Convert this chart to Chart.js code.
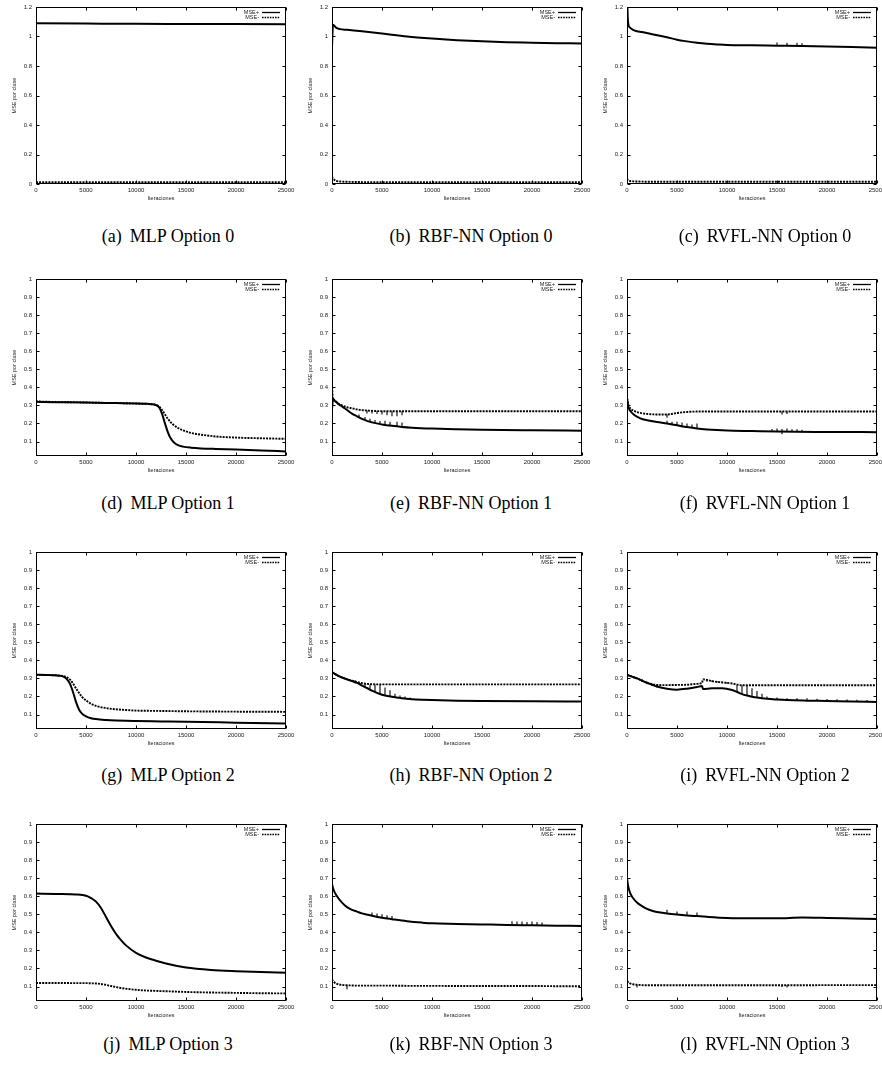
<!DOCTYPE html>
<html>
<head>
<meta charset="utf-8">
<script src="https://cdn.jsdelivr.net/npm/chart.js@4.4.1/dist/chart.umd.min.js"></script>
<style>
  html, body { margin: 0; padding: 0; background: #fff; }
  body { width: 882px; height: 1065px; overflow: hidden; position: relative; }
  canvas { position: absolute; }
  .cap {
    position: absolute; width: 300px; text-align: center; white-space: nowrap;
    font-family: "Liberation Serif", "Times New Roman", serif; font-size: 18px;
    line-height: 20px; color: #000;
  }
  .cap span { margin-right: 0.45em; }
</style>
</head>
<body>
<script>
(function () {
  'use strict';

  // --- Axes / labels ---
  var xTicks = [0, 5000, 10000, 15000, 20000, 25000];
  var yTicksRow0 = [0, 0.2, 0.4, 0.6, 0.8, 1, 1.2];
  var yTicksRest = [0.1, 0.2, 0.3, 0.4, 0.5, 0.6, 0.7, 0.8, 0.9, 1];
  var legendLabels = ['MSE+', 'MSE-'];
  var xTitle = 'Iteraciones';
  var yTitle = 'MSE por clase';
  var captionTags = ['(a)', '(b)', '(c)', '(d)', '(e)', '(f)', '(g)', '(h)', '(i)', '(j)', '(k)', '(l)'];
  var captionNames = ['MLP Option 0', 'RBF-NN Option 0', 'RVFL-NN Option 0',
                      'MLP Option 1', 'RBF-NN Option 1', 'RVFL-NN Option 1',
                      'MLP Option 2', 'RBF-NN Option 2', 'RVFL-NN Option 2',
                      'MLP Option 3', 'RBF-NN Option 3', 'RVFL-NN Option 3'];

  // --- (a) MLP Option 0 ---
  var aX = [0, 5000, 10000, 15000, 20000, 25000];
  var aPos = [1.09, 1.088, 1.086, 1.085, 1.084, 1.083];
  var aNeg = [0.012, 0.012, 0.012, 0.012, 0.012, 0.012];

  // --- (b) RBF-NN Option 0 ---
  var bX = [0, 100, 200, 400, 800, 1500, 3000, 5000, 7500, 10000, 12500, 15000, 17500, 20000, 22500, 25000];
  var bPos = [0.93, 1.08, 1.075, 1.06, 1.05, 1.045, 1.035, 1.02, 1.0, 0.986, 0.975, 0.967, 0.961, 0.958, 0.955, 0.952];
  var bNeg = [0.05, 0.035, 0.03, 0.022, 0.017, 0.015, 0.013, 0.012, 0.012, 0.012, 0.012, 0.012, 0.012, 0.012, 0.012, 0.012];

  // --- (c) RVFL-NN Option 0 ---
  var cX = [0, 100, 300, 600, 1000, 1500, 2500, 4000, 5000, 6000, 7000, 8000, 9000, 10000, 12500, 15000, 17500, 20000, 22500, 25000];
  var cPos = [1.3, 1.1, 1.06, 1.045, 1.035, 1.03, 1.015, 0.995, 0.978, 0.967, 0.958, 0.951, 0.946, 0.942, 0.94, 0.938, 0.936, 0.933, 0.929, 0.924];
  var cNeg = [0.035, 0.025, 0.02, 0.018, 0.017, 0.016, 0.015, 0.015, 0.015, 0.015, 0.015, 0.015, 0.015, 0.015, 0.015, 0.015, 0.015, 0.015, 0.015, 0.015];
  var cSpikeX = [15000, 16000, 17000, 17500];
  var cSpikeLo = [0.938, 0.937, 0.936, 0.936];
  var cSpikeHi = [0.96, 0.958, 0.958, 0.955];

  // --- (d) MLP Option 1 ---
  var dX = [0, 2000, 5000, 8000, 10000, 11000, 11500, 12000, 12300, 12600, 12900, 13200, 13500, 13800, 14200, 14700, 15500, 16500, 18000, 20000, 22500, 25000];
  var dPos = [0.32, 0.318, 0.316, 0.313, 0.311, 0.309, 0.307, 0.302, 0.29, 0.255, 0.2, 0.15, 0.115, 0.095, 0.08, 0.072, 0.066, 0.062, 0.059, 0.056, 0.051, 0.045];
  var dNeg = [0.322, 0.319, 0.316, 0.313, 0.311, 0.309, 0.307, 0.303, 0.295, 0.275, 0.25, 0.225, 0.205, 0.19, 0.175, 0.162, 0.148, 0.138, 0.128, 0.122, 0.118, 0.115];

  // --- (e) RBF-NN Option 1 ---
  var eX = [0, 100, 300, 600, 1000, 1500, 2000, 2500, 3000, 4000, 5000, 6000, 7000, 8000, 10000, 12500, 15000, 20000, 25000];
  var ePos = [0.28, 0.335, 0.325, 0.31, 0.295, 0.275, 0.255, 0.24, 0.226, 0.206, 0.195, 0.187, 0.181, 0.177, 0.172, 0.168, 0.165, 0.162, 0.16];
  var eNeg = [0.4, 0.335, 0.325, 0.31, 0.3, 0.29, 0.284, 0.278, 0.274, 0.27, 0.268, 0.268, 0.268, 0.268, 0.268, 0.268, 0.268, 0.268, 0.268];
  var eSpikeX = [2700, 3300, 3800, 4300, 4800, 5300, 5800, 6500, 7000, 3500, 4000, 4500, 5000, 5500, 6000, 6500, 7000];
  var eSpikeLo = [0.235, 0.222, 0.212, 0.204, 0.198, 0.193, 0.188, 0.184, 0.181, 0.255, 0.255, 0.252, 0.25, 0.245, 0.24, 0.24, 0.245];
  var eSpikeHi = [0.25, 0.236, 0.226, 0.22, 0.214, 0.215, 0.21, 0.21, 0.205, 0.272, 0.27, 0.268, 0.268, 0.268, 0.268, 0.268, 0.268];

  // --- (f) RVFL-NN Option 1 ---
  var fX = [0, 150, 400, 700, 1000, 1500, 2000, 3000, 4000, 5000, 6000, 7000, 8000, 10000, 12500, 15000, 20000, 25000];
  var fPos = [0.34, 0.29, 0.265, 0.248, 0.238, 0.225, 0.218, 0.208, 0.2, 0.19, 0.18, 0.172, 0.167, 0.161, 0.158, 0.155, 0.153, 0.152];
  var fNeg = [0.34, 0.3, 0.28, 0.27, 0.263, 0.257, 0.253, 0.25, 0.25, 0.258, 0.264, 0.266, 0.266, 0.266, 0.266, 0.266, 0.266, 0.266];
  var fSpikeX = [4000, 4500, 5000, 5500, 6000, 6500, 7000, 14500, 15000, 15500, 16000, 16500, 17000, 17500, 4000, 15500, 16000];
  var fSpikeLo = [0.2, 0.195, 0.19, 0.185, 0.18, 0.176, 0.172, 0.156, 0.155, 0.14, 0.155, 0.154, 0.154, 0.154, 0.232, 0.25, 0.252];
  var fSpikeHi = [0.215, 0.21, 0.21, 0.205, 0.2, 0.195, 0.2, 0.17, 0.172, 0.17, 0.172, 0.168, 0.168, 0.165, 0.25, 0.266, 0.266];

  // --- (g) MLP Option 2 ---
  var gX = [0, 1000, 2000, 2500, 2800, 3100, 3400, 3700, 4000, 4300, 4600, 5000, 5500, 6000, 7000, 8000, 9000, 10000, 12500, 15000, 20000, 25000];
  var gPos = [0.32, 0.319, 0.317, 0.314, 0.308, 0.295, 0.27, 0.225, 0.17, 0.128, 0.105, 0.09, 0.08, 0.075, 0.07, 0.067, 0.065, 0.064, 0.062, 0.06, 0.055, 0.05];
  var gNeg = [0.32, 0.319, 0.317, 0.315, 0.312, 0.306, 0.293, 0.272, 0.245, 0.22, 0.198, 0.178, 0.16, 0.148, 0.136, 0.129, 0.125, 0.122, 0.12, 0.118, 0.116, 0.115];

  // --- (h) RBF-NN Option 2 ---
  var hX = [0, 500, 1000, 1500, 2000, 2500, 3000, 3500, 4000, 4500, 5000, 6000, 7000, 8000, 9000, 10000, 12500, 15000, 20000, 25000];
  var hPos = [0.335, 0.318, 0.305, 0.295, 0.285, 0.275, 0.26, 0.247, 0.232, 0.22, 0.21, 0.198, 0.19, 0.185, 0.182, 0.18, 0.177, 0.175, 0.173, 0.172];
  var hNeg = [0.335, 0.318, 0.305, 0.295, 0.287, 0.28, 0.274, 0.27, 0.268, 0.267, 0.267, 0.267, 0.267, 0.267, 0.267, 0.267, 0.267, 0.267, 0.267, 0.267];
  var hSpikeX = [2300, 2800, 3300, 3800, 4300, 4800, 5300, 5800, 6300, 6800, 7300, 7800];
  var hSpikeLo = [0.278, 0.266, 0.252, 0.236, 0.224, 0.213, 0.205, 0.2, 0.195, 0.191, 0.188, 0.186];
  var hSpikeHi = [0.29, 0.275, 0.27, 0.267, 0.267, 0.265, 0.25, 0.235, 0.215, 0.205, 0.2, 0.195];

  // --- (i) RVFL-NN Option 2 ---
  var iX = [0, 500, 1000, 1500, 2000, 2500, 3000, 4000, 5000, 6000, 7000, 7500, 7600, 8500, 9500, 10500, 11000, 11500, 12000, 12500, 13000, 14000, 15000, 16000, 18000, 20000, 22500, 25000];
  var iPos = [0.32, 0.31, 0.3, 0.288, 0.275, 0.265, 0.255, 0.243, 0.238, 0.243, 0.252, 0.258, 0.242, 0.245, 0.245, 0.236, 0.225, 0.213, 0.205, 0.199, 0.194, 0.187, 0.183, 0.18, 0.177, 0.175, 0.172, 0.17];
  var iNeg = [0.32, 0.31, 0.3, 0.288, 0.276, 0.268, 0.264, 0.263, 0.264, 0.265, 0.27, 0.275, 0.295, 0.285, 0.278, 0.272, 0.266, 0.262, 0.262, 0.262, 0.262, 0.262, 0.262, 0.262, 0.262, 0.262, 0.262, 0.262];
  var iSpikeX = [1500, 2000, 2500, 3000, 8000, 8500, 9000, 9500, 10000, 11000, 11500, 12000, 12500, 13000, 13500, 14000, 15000, 16000, 17000, 18000, 19000, 20000, 21000, 22000, 23000, 24000];
  var iSpikeLo = [0.28, 0.268, 0.258, 0.25, 0.282, 0.28, 0.276, 0.273, 0.27, 0.225, 0.213, 0.205, 0.199, 0.194, 0.19, 0.187, 0.183, 0.18, 0.178, 0.177, 0.176, 0.175, 0.174, 0.173, 0.172, 0.171];
  var iSpikeHi = [0.295, 0.283, 0.27, 0.262, 0.295, 0.29, 0.286, 0.282, 0.28, 0.262, 0.262, 0.262, 0.245, 0.23, 0.215, 0.2, 0.195, 0.19, 0.19, 0.19, 0.188, 0.186, 0.185, 0.183, 0.182, 0.18];

  // --- (j) MLP Option 3 ---
  var jX = [0, 2000, 4000, 5000, 5500, 6000, 6500, 7000, 7500, 8000, 8500, 9000, 10000, 11000, 12000, 13000, 14000, 15000, 17500, 20000, 22500, 25000];
  var jPos = [0.615, 0.613, 0.61, 0.603, 0.59, 0.57, 0.535, 0.485, 0.435, 0.392, 0.357, 0.328, 0.287, 0.261, 0.243, 0.228, 0.215, 0.205, 0.192, 0.185, 0.18, 0.177];
  var jNeg = [0.12, 0.12, 0.119, 0.119, 0.118, 0.117, 0.114, 0.109, 0.103, 0.097, 0.092, 0.088, 0.082, 0.078, 0.076, 0.074, 0.072, 0.07, 0.067, 0.065, 0.063, 0.062];

  // --- (k) RBF-NN Option 3 ---
  var kX = [0, 50, 200, 500, 1000, 1500, 2000, 2500, 3000, 4000, 5000, 6000, 7500, 9000, 10000, 12500, 15000, 17500, 20000, 22500, 25000];
  var kPos = [0.67, 0.655, 0.63, 0.6, 0.565, 0.54, 0.525, 0.515, 0.505, 0.492, 0.481, 0.473, 0.462, 0.454, 0.45, 0.447, 0.444, 0.441, 0.439, 0.437, 0.435];
  var kNeg = [0.14, 0.135, 0.125, 0.115, 0.109, 0.107, 0.106, 0.105, 0.105, 0.105, 0.105, 0.105, 0.104, 0.104, 0.104, 0.103, 0.103, 0.103, 0.103, 0.102, 0.102];
  var kSpikeX = [4000, 4500, 5000, 5500, 6000, 18000, 18500, 19000, 19500, 20000, 20500, 21000, 1500];
  var kSpikeLo = [0.492, 0.486, 0.481, 0.477, 0.473, 0.44, 0.44, 0.439, 0.439, 0.439, 0.438, 0.438, 0.085];
  var kSpikeHi = [0.51, 0.505, 0.5, 0.495, 0.49, 0.462, 0.46, 0.46, 0.458, 0.46, 0.458, 0.455, 0.107];

  // --- (l) RVFL-NN Option 3 ---
  var lX = [0, 100, 300, 600, 1000, 1500, 2000, 2500, 3000, 4000, 5000, 6000, 7000, 8000, 10000, 12500, 15000, 17500, 20000, 22500, 25000];
  var lPos = [0.7, 0.66, 0.62, 0.59, 0.565, 0.545, 0.53, 0.52, 0.513, 0.505, 0.499, 0.494, 0.49, 0.486, 0.48, 0.478, 0.478, 0.482, 0.48, 0.477, 0.474];
  var lNeg = [0.13, 0.125, 0.118, 0.113, 0.11, 0.108, 0.107, 0.107, 0.107, 0.107, 0.107, 0.107, 0.107, 0.107, 0.107, 0.107, 0.107, 0.107, 0.108, 0.108, 0.108];
  var lSpikeX = [4000, 5000, 6000, 7000, 1000, 15500, 16000];
  var lSpikeLo = [0.505, 0.499, 0.494, 0.49, 0.095, 0.098, 0.095];
  var lSpikeHi = [0.525, 0.515, 0.515, 0.51, 0.11, 0.107, 0.107];

  var panels = [
    { x: aX, pos: aPos, neg: aNeg },
    { x: bX, pos: bPos, neg: bNeg },
    { x: cX, pos: cPos, neg: cNeg, sx: cSpikeX, slo: cSpikeLo, shi: cSpikeHi },
    { x: dX, pos: dPos, neg: dNeg },
    { x: eX, pos: ePos, neg: eNeg, sx: eSpikeX, slo: eSpikeLo, shi: eSpikeHi },
    { x: fX, pos: fPos, neg: fNeg, sx: fSpikeX, slo: fSpikeLo, shi: fSpikeHi },
    { x: gX, pos: gPos, neg: gNeg },
    { x: hX, pos: hPos, neg: hNeg, sx: hSpikeX, slo: hSpikeLo, shi: hSpikeHi },
    { x: iX, pos: iPos, neg: iNeg, sx: iSpikeX, slo: iSpikeLo, shi: iSpikeHi },
    { x: jX, pos: jPos, neg: jNeg },
    { x: kX, pos: kPos, neg: kNeg, sx: kSpikeX, slo: kSpikeLo, shi: kSpikeHi },
    { x: lX, pos: lPos, neg: lNeg, sx: lSpikeX, slo: lSpikeLo, shi: lSpikeHi }
  ];

  // --- Layout (pixels) ---
  var colLeft = [36, 332, 627];
  var rowTop = [7, 279, 552, 824];
  var capCenterX = [168, 471, 765];
  var capCenterY = [237, 504, 776, 1045];
  var PLOT_W = 250, PLOT_H = 177, AXIS_W = 36, AXIS_H = 20, PAD_T = 7, PAD_R = 16;
  var SANS = "'Liberation Sans', Arial, Helvetica, sans-serif";
  var INK = '#222';

  function pairs(xs, ys) {
    return xs.map(function (x, i) { return { x: x, y: ys[i] }; });
  }

  function spikeData(xs, lo, hi) {
    var out = [];
    for (var i = 0; i < xs.length; i++) {
      out.push({ x: xs[i], y: lo[i] }, { x: xs[i], y: hi[i] }, { x: xs[i], y: null });
    }
    return out;
  }

  // gnuplot style border with inward ticks on all four sides
  var framePlugin = {
    id: 'frame',
    afterDatasetsDraw: function (chart) {
      var a = chart.chartArea, ctx = chart.ctx;
      var sx = chart.scales.x, sy = chart.scales.y;
      var L = Math.round(a.left) + 0.5, R = Math.round(a.right) - 0.5;
      var T = Math.round(a.top) + 0.5, B = Math.round(a.bottom) - 0.5;
      ctx.save();
      ctx.strokeStyle = '#000';
      ctx.lineWidth = 1;
      ctx.strokeRect(L, T, R - L, B - T);
      ctx.beginPath();
      sx.ticks.forEach(function (t) {
        var px = Math.round(sx.getPixelForValue(t.value)) + 0.5;
        ctx.moveTo(px, B); ctx.lineTo(px, B - 3);
        ctx.moveTo(px, T); ctx.lineTo(px, T + 3);
      });
      sy.ticks.forEach(function (t) {
        var py = Math.round(sy.getPixelForValue(t.value)) + 0.5;
        ctx.moveTo(L, py); ctx.lineTo(L + 3, py);
        ctx.moveTo(R, py); ctx.lineTo(R - 3, py);
      });
      ctx.stroke();
      ctx.restore();
    }
  };

  // key in the top right corner, text first then sample line
  var keyPlugin = {
    id: 'key',
    afterDatasetsDraw: function (chart) {
      var a = chart.chartArea, ctx = chart.ctx;
      ctx.save();
      ctx.font = '5.5px ' + SANS;
      ctx.fillStyle = INK;
      ctx.textAlign = 'right';
      ctx.textBaseline = 'middle';
      for (var i = 0; i < legendLabels.length; i++) {
        var y = a.top + 5.5 + i * 5;
        ctx.fillText(legendLabels[i], a.right - 27, y);
        ctx.beginPath();
        ctx.strokeStyle = '#000';
        ctx.lineWidth = 1.3;
        ctx.setLineDash(i === 0 ? [] : [1.6, 1]);
        ctx.moveTo(a.right - 24, y);
        ctx.lineTo(a.right - 6, y);
        ctx.stroke();
      }
      ctx.restore();
    }
  };

  function makePanel(idx) {
    var p = panels[idx];
    var row = Math.floor(idx / 3), col = idx % 3;
    var first = row === 0;
    var yVals = first ? yTicksRow0 : yTicksRest;

    var canvas = document.createElement('canvas');
    canvas.width = AXIS_W + PLOT_W + PAD_R;
    canvas.height = PAD_T + PLOT_H + AXIS_H;
    canvas.style.left = (colLeft[col] - AXIS_W) + 'px';
    canvas.style.top = (rowTop[row] - PAD_T) + 'px';
    document.body.appendChild(canvas);

    var datasets = [
      {
        label: legendLabels[0], data: pairs(p.x, p.pos),
        borderColor: '#000', borderWidth: 2, pointRadius: 0,
        cubicInterpolationMode: 'monotone', order: 2
      },
      {
        label: legendLabels[1], data: pairs(p.x, p.neg),
        borderColor: '#000', borderWidth: 1.9, borderDash: [2, 1.1], pointRadius: 0,
        cubicInterpolationMode: 'monotone', order: 1
      }
    ];
    if (p.sx) {
      datasets.push({
        label: 'spikes', data: spikeData(p.sx, p.slo, p.shi),
        borderColor: '#000', borderWidth: 1.1, pointRadius: 0, tension: 0, spanGaps: false, order: 0
      });
    }

    new Chart(canvas, {
      type: 'line',
      data: { datasets: datasets },
      plugins: [framePlugin, keyPlugin],
      options: {
        responsive: false,
        animation: false,
        devicePixelRatio: 1,
        layout: { padding: { left: 0, top: PAD_T, right: PAD_R, bottom: 0 } },
        plugins: { legend: { display: false }, tooltip: { enabled: false } },
        scales: {
          x: {
            type: 'linear', min: 0, max: 25000,
            afterBuildTicks: function (s) { s.ticks = xTicks.map(function (v) { return { value: v }; }); },
            afterFit: function (s) { s.height = AXIS_H; s.paddingLeft = 0; s.paddingRight = 0; },
            ticks: {
              autoSkip: false, maxRotation: 0, padding: 3,
              font: { family: SANS, size: 6 }, color: INK,
              callback: function (v) { return String(v); }
            },
            grid: { display: false, drawTicks: false },
            border: { display: false },
            title: { display: true, text: xTitle, font: { family: SANS, size: 5.5 }, color: INK, padding: { top: 0, bottom: 2.7 } }
          },
          y: {
            type: 'linear', min: first ? 0 : 0.02, max: first ? 1.2 : 1,
            afterBuildTicks: function (s) { s.ticks = yVals.map(function (v) { return { value: v }; }); },
            afterFit: function (s) { s.width = AXIS_W; s.paddingTop = 0; s.paddingBottom = 0; },
            ticks: {
              autoSkip: false, padding: 4,
              font: { family: SANS, size: 6 }, color: INK,
              callback: function (v) { return String(Math.round(v * 10) / 10); }
            },
            grid: { display: false, drawTicks: false },
            border: { display: false },
            title: { display: true, text: yTitle, font: { family: SANS, size: 5.5 }, color: INK, padding: { top: 10.7, bottom: 0 } }
          }
        }
      }
    });

    var cap = document.createElement('div');
    cap.className = 'cap';
    cap.style.left = (capCenterX[col] - 150) + 'px';
    cap.style.top = (capCenterY[row] - 11) + 'px';
    var tag = document.createElement('span');
    tag.textContent = captionTags[idx];
    cap.appendChild(tag);
    cap.appendChild(document.createTextNode(captionNames[idx]));
    document.body.appendChild(cap);
  }

  for (var n = 0; n < panels.length; n++) makePanel(n);
})();
</script>
</body>
</html>
